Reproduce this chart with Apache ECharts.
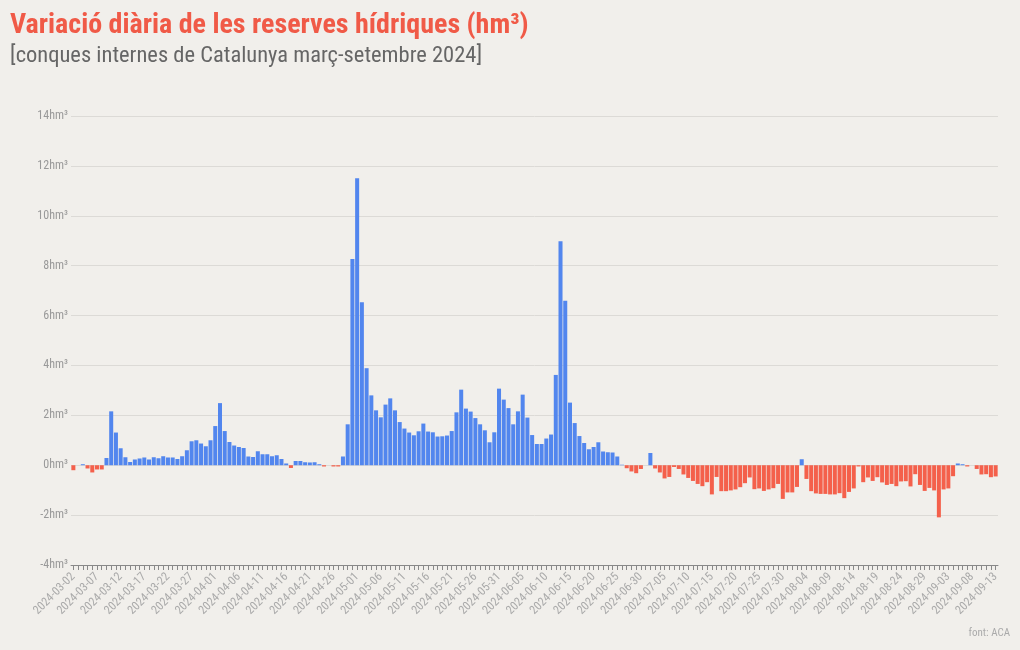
<!DOCTYPE html>
<html>
<head>
<meta charset="utf-8">
<script src="https://cdn.jsdelivr.net/npm/echarts@6/dist/echarts.min.js"></script>
<style>
html,body{margin:0;padding:0;background:#f1efeb;}
#c{width:1020px;height:650px;}
</style>
</head>
<body>
<div id="c"></div>
<script>
const startDate = '2024-03-02';
const dayCount = 196;
const values = [
-0.2, 0, 0.04, -0.13, -0.29, -0.17, -0.17, 0.29, 2.16, 1.31,
0.68, 0.32, 0.13, 0.23, 0.27, 0.31, 0.23, 0.32, 0.28, 0.36,
0.31, 0.31, 0.25, 0.36, 0.6, 0.96, 1.0, 0.87, 0.76, 1.0,
1.57, 2.49, 1.37, 0.93, 0.79, 0.73, 0.69, 0.35, 0.33, 0.56,
0.44, 0.44, 0.36, 0.4, 0.25, 0.07, -0.11, 0.17, 0.17, 0.12,
0.11, 0.12, 0.04, -0.05, 0, -0.05, -0.05, 0.35, 1.64, 8.27,
11.5, 6.53, 3.89, 2.8, 2.2, 1.92, 2.43, 2.68, 2.2, 1.73,
1.47, 1.31, 1.2, 1.36, 1.67, 1.35, 1.32, 1.15, 1.16, 1.19,
1.37, 2.12, 3.03, 2.27, 2.15, 1.89, 1.64, 1.4, 0.92, 1.32,
3.07, 2.63, 2.29, 1.64, 2.16, 2.83, 1.91, 1.21, 0.85, 0.85,
1.07, 1.23, 3.62, 8.98, 6.59, 2.51, 1.69, 1.17, 0.89, 0.64,
0.73, 0.92, 0.55, 0.52, 0.51, 0.35, 0.02, -0.12, -0.25, -0.32,
-0.15, 0, 0.49, -0.13, -0.29, -0.53, -0.47, -0.07, -0.15, -0.37,
-0.51, -0.63, -0.75, -0.84, -0.68, -1.17, -0.47, -1.04, -1.04, -1.01,
-0.97, -0.88, -0.72, -0.49, -0.96, -0.93, -1.03, -0.97, -0.92, -0.75,
-1.35, -1.09, -1.09, -0.87, 0.24, -0.55, -1.04, -1.13, -1.15, -1.15,
-1.17, -1.17, -1.12, -1.32, -1.07, -0.93, -0.05, -0.68, -0.49, -0.63,
-0.48, -0.69, -0.79, -0.75, -0.84, -0.65, -0.64, -0.85, -0.36, -0.79,
-1.03, -0.91, -1.01, -2.09, -0.97, -0.93, -0.44, 0.07, 0.04, -0.05,
0, -0.15, -0.37, -0.36, -0.48, -0.45
];
const yTicks = [-4, -2, 0, 2, 4, 6, 8, 10, 12, 14];

// build category dates
const categories = [];
(function(){
  const d = new Date(startDate + 'T12:00:00Z');
  for (let i = 0; i < dayCount; i++) {
    const x = new Date(d.getTime() + i * 86400000);
    categories.push(x.toISOString().slice(0, 10));
  }
})();

const BLUE = '#5286ee';
const RED = '#f4604b';
const FONT = "'Roboto Condensed','Liberation Sans Narrow','Arial Narrow','DejaVu Sans Condensed',Roboto,sans-serif";

const chart = echarts.init(document.getElementById('c'), null, {renderer: 'canvas'});
chart.setOption({
  backgroundColor: '#f1efeb',
  animation: false,
  title: [{
    text: 'Variació diària de les reserves hídriques (hm³)',
    left: 10, top: 12, padding: 0,
    textStyle: {color: '#f05a47', fontSize: 28, fontWeight: 'bold', fontFamily: FONT}
  }, {
    text: '[conques internes de Catalunya març-setembre 2024]',
    left: 10, top: 45, padding: 0,
    textStyle: {color: '#666', fontSize: 22.5, fontWeight: 'normal', fontFamily: FONT}
  }, {
    text: 'font: ACA',
    right: 10, top: 628, padding: 0,
    textStyle: {color: '#aaa', fontSize: 11, fontWeight: 'normal', fontFamily: FONT}
  }],
  grid: {left: 71, right: 22, top: 116, bottom: 85, containLabel: false},
  xAxis: {
    type: 'category',
    data: categories,
    axisLine: {onZero: false, lineStyle: {color: '#888'}},
    axisTick: {show: true, interval: 0, alignWithLabel: true, length: 5, lineStyle: {color: '#888'}},
    axisLabel: {interval: 4, rotate: 45, color: '#aaa', fontSize: 12, fontFamily: FONT, margin: 10},
    splitLine: {show: false}
  },
  yAxis: {
    type: 'value',
    min: yTicks[0], max: yTicks[yTicks.length - 1], interval: 2,
    axisLine: {show: false},
    axisTick: {show: false},
    axisLabel: {formatter: '{value}hm³', color: '#999', fontSize: 12, fontFamily: FONT, margin: 3},
    splitLine: {lineStyle: {color: '#dcdad6', width: 1}}
  },
  series: [{
    type: 'bar',
    data: values,
    barCategoryGap: '15%',
    itemStyle: {
      color: function (p) { return p.value >= 0 ? BLUE : RED; }
    }
  }]
});
</script>
</body>
</html>
